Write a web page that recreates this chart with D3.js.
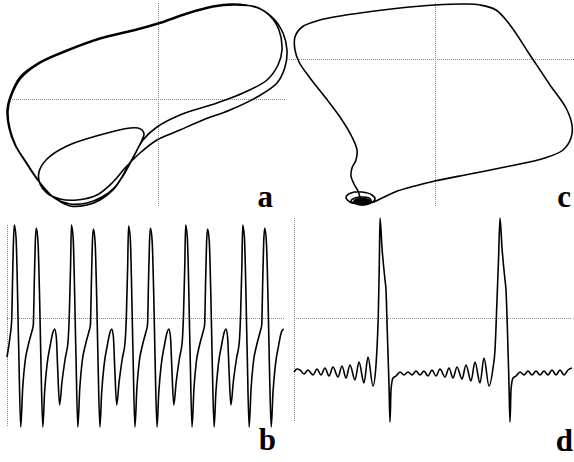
<!DOCTYPE html>
<html>
<head>
<meta charset="utf-8">
<script src="https://cdn.jsdelivr.net/npm/d3@7/dist/d3.min.js"></script>
<style>
  body { margin: 0; background: #fff; }
  svg { display: block; }
</style>
</head>
<body>
<div id="chart"></div>
<script>
// ---- panel a: phase portrait (x, y), grid lines cross at (0, 0)
const aX = [1.29, 1.25, 1.15, 1.00, 0.75, 0.55, 0.29, 0.00, -0.25, -0.58, -0.91, -1.18, -1.38, -1.48, -1.51, -1.49, -1.43, -1.33, -1.21, -1.06,
    -0.88, -0.71, -0.58, -0.45, -0.35, -0.25, -0.15, -0.01, 0.22, 0.59, 0.85, 1.09, 1.20, 1.24,
    1.21, 1.12, 0.98, 0.75, 0.55, 0.29, 0.00, -0.25, -0.58, -0.91, -1.18, -1.37, -1.47, -1.50, -1.48, -1.42, -1.32, -1.20, -1.05, -0.88,
    -0.71, -0.56, -0.43, -0.31, -0.21, -0.16, -0.14, -0.16, -0.20, -0.28, -0.58, -0.91, -1.11, -1.19, -1.18, -1.11, -0.98, -0.81, -0.61, -0.45, -0.33,
    -0.18, -0.01, 0.22, 0.45, 0.72, 0.99, 1.19, 1.27];
const aY = [0.49, 0.66, 0.81, 0.91, 0.95, 0.93, 0.86, 0.76, 0.69, 0.61, 0.49, 0.37, 0.22, 0.02, -0.11, -0.29, -0.46, -0.62, -0.80, -0.97,
    -1.07, -1.06, -1.01, -0.91, -0.77, -0.59, -0.41, -0.28, -0.16, -0.04, 0.06, 0.19, 0.34, 0.49,
    0.69, 0.83, 0.92, 0.94, 0.92, 0.85, 0.75, 0.68, 0.60, 0.48, 0.36, 0.21, 0.02, -0.12, -0.30, -0.47, -0.63, -0.81, -0.98, -1.05,
    -1.04, -0.98, -0.88, -0.69, -0.51, -0.41, -0.35, -0.31, -0.29, -0.29, -0.36, -0.47, -0.60, -0.73, -0.85, -0.94, -1.00, -1.01, -0.96, -0.83, -0.69,
    -0.54, -0.41, -0.31, -0.21, -0.11, 0.02, 0.16, 0.32];

// ---- panel c: phase portrait with the spiral near the fixed point
const cX = [-0.55, -0.40, -0.20, 0.00, 0.35, 0.75, 1.10, 1.28, 1.36, 1.37, 1.31, 1.15, 0.95, 0.75, 0.61, 0.45, 0.30, 0.00, -0.35, -0.75,
    -1.15, -1.33, -1.40, -1.40, -1.36, -1.25, -1.10, -0.95, -0.83, -0.78, -0.79, -0.83, -0.84, -0.81, -0.77, -0.75, -0.73,
    -0.64, -0.66, -0.73, -0.80, -0.84, -0.81, -0.73, -0.64, -0.60, -0.63, -0.73, -0.84, -0.89, -0.85, -0.73, -0.61];
const cY = [-1.40, -1.33, -1.27, -1.22, -1.15, -1.07, -0.99, -0.91, -0.79, -0.66, -0.49, -0.26, 0.04, 0.34, 0.49, 0.54, 0.55, 0.54, 0.51, 0.46,
    0.39, 0.32, 0.22, 0.09, -0.03, -0.19, -0.38, -0.58, -0.78, -0.91, -1.01, -1.09, -1.17, -1.25, -1.32, -1.38, -1.42,
    -1.42, -1.39, -1.38, -1.39, -1.42, -1.44, -1.46, -1.44, -1.40, -1.36, -1.33, -1.34, -1.38, -1.43, -1.45, -1.43];
// dense core of the spiral: centre x, centre y, half width, half height
const cCore = [-0.73, -1.425, 0.09, 0.04];

// ---- panel b: time series of x
const bT = [0, 3, 4.7, 5.5, 6.3,
    7.3, 9.0, 11.7, 13.7, 15.7, 18.0, 21.3, 24.7, 26.3, 27.3, 28.3, 29.3, 31.0, 32.6, 34.0, 35.8, 37.6, 40.0, 43.3, 46.0, 47.6, 49.3, 50.6, 52.6, 55.0, 58.3, 61.0, 62.3, 63.6,
    64.4, 66.1, 68.8, 70.8, 72.8, 75.1, 78.4, 81.8, 83.4, 84.4, 85.4, 86.4, 88.1, 89.7, 91.1, 92.9, 94.7, 97.1, 100.4, 103.1, 104.7, 106.4, 107.7, 109.7, 112.1, 115.4, 118.1, 119.4, 120.7,
    121.5, 123.2, 125.9, 127.9, 129.9, 132.2, 135.5, 138.9, 140.5, 141.5, 142.5, 143.5, 145.2, 146.8, 148.2, 150.0, 151.8, 154.2, 157.5, 160.2, 161.8, 163.5, 164.8, 166.8, 169.2, 172.5, 175.2, 176.5, 177.8,
    178.6, 180.3, 183.0, 185.0, 187.0, 189.3, 192.6, 196.0, 197.6, 198.6, 199.6, 200.6, 202.3, 203.9, 205.3, 207.1, 208.9, 211.3, 214.6, 217.3, 218.9, 220.6, 221.9, 223.9, 226.3, 229.6, 232.3, 233.6, 234.9,
    235.7, 237.4, 240.1, 242.1, 244.1, 246.4, 249.7, 253.1, 254.7, 255.7, 256.7, 257.7, 259.4, 261.0, 262.4, 264.2, 266.0, 268.4, 271.7, 274.4, 276.6];
const bV = [-0.39, -0.19, -0.02, 0.35, 0.72,
    0.93, 0.81, -0.30, -1.09, -0.70, -0.44, -0.27, -0.14, -0.07, 0.36, 0.76, 0.90, 0.76, 0.20, -0.47, -1.09, -0.74, -0.47, -0.27, -0.14, -0.11, -0.19, -0.49, -0.87, -0.64, -0.40, -0.24, 0.03, 0.53,
    0.93, 0.81, -0.30, -1.09, -0.70, -0.44, -0.27, -0.14, -0.07, 0.36, 0.76, 0.89, 0.76, 0.20, -0.47, -1.09, -0.74, -0.47, -0.27, -0.14, -0.11, -0.19, -0.49, -0.87, -0.64, -0.40, -0.24, 0.03, 0.53,
    0.92, 0.81, -0.30, -1.09, -0.70, -0.44, -0.27, -0.14, -0.07, 0.36, 0.76, 0.90, 0.76, 0.20, -0.47, -1.09, -0.74, -0.47, -0.27, -0.14, -0.11, -0.19, -0.49, -0.87, -0.64, -0.40, -0.24, 0.03, 0.53,
    0.93, 0.81, -0.30, -1.09, -0.70, -0.44, -0.27, -0.14, -0.07, 0.36, 0.76, 0.89, 0.76, 0.20, -0.47, -1.09, -0.74, -0.47, -0.27, -0.14, -0.11, -0.19, -0.49, -0.87, -0.64, -0.40, -0.24, 0.03, 0.53,
    0.93, 0.81, -0.30, -1.09, -0.70, -0.44, -0.27, -0.14, -0.07, 0.36, 0.76, 0.90, 0.76, 0.20, -0.47, -1.09, -0.74, -0.47, -0.27, -0.14, -0.11];

// ---- panel d: time series with bursts
const dT = [0, 3, 6, 10, 14, 19, 23, 27, 31, 35, 39, 44, 48, 52, 56, 61, 65, 70, 74, 79,
    82, 83, 84.3, 85.3, 86, 88, 91, 92, 93.3, 95, 96, 97, 99, 102, 106, 110, 114, 118, 122, 126,
    130, 134, 138, 142, 146, 151, 155, 159, 163, 168, 172, 177, 181, 186, 190, 195, 199, 201, 203, 204.5,
    206, 208, 211, 212, 213.5, 215, 216, 217, 219, 222, 226, 230, 234, 238, 242, 246, 250, 254, 258, 262,
    266, 270, 274, 278];
const dV = [-0.54, -0.51, -0.52, -0.56, -0.52, -0.57, -0.51, -0.57, -0.50, -0.58, -0.49, -0.59, -0.48, -0.60, -0.47, -0.62, -0.44, -0.65, -0.39, -0.68,
    -0.47, -0.30, 0.03, 0.53, 1.00, 0.70, 0.38, 0.28, -0.14, -0.67, -1.04, -0.72, -0.60, -0.58, -0.54, -0.57, -0.54, -0.57, -0.53, -0.57,
    -0.53, -0.58, -0.52, -0.58, -0.51, -0.59, -0.50, -0.60, -0.49, -0.61, -0.47, -0.63, -0.44, -0.65, -0.40, -0.68, -0.50, -0.32, 0.18, 0.58,
    1.00, 0.70, 0.38, 0.28, -0.14, -0.67, -1.04, -0.72, -0.60, -0.58, -0.54, -0.57, -0.53, -0.57, -0.53, -0.57, -0.53, -0.57, -0.52, -0.57,
    -0.52, -0.57, -0.52, -0.50];

const width = 574;
const height = 462;

const svg = d3.select('#chart')
    .append('svg')
    .attr('width', width)
    .attr('height', height);

const panels = [
    { xs: aX, ys: aY, xDom: [-1.5, 1.28], yDom: [0.96, -1.08], xRange: [8, 286], yRange: [3, 207],
      curve: d3.curveCatmullRomClosed.alpha(0.5), label: 'a', labelPos: [273, 207] },
    { xs: cX, ys: cY, xDom: [-1.48, 1.39], yDom: [0.56, -1.48], xRange: [287, 574], yRange: [3, 207],
      curve: d3.curveCatmullRomClosed.alpha(0.5), label: 'c', labelPos: [571, 207], core: cCore },
    { xs: bT, ys: bV, xDom: [0, 278], yDom: [0.93, -1.09], xRange: [7, 285], yRange: [225, 427],
      curve: d3.curveMonotoneX, label: 'b', labelPos: [276, 450] },
    { xs: dT, ys: dV, xDom: [0, 278], yDom: [1.00, -1.04], xRange: [294, 572], yRange: [218, 422],
      curve: d3.curveMonotoneX, label: 'd', labelPos: [573, 451] }
];

function drawPanel(p) {
    const x = d3.scaleLinear().domain(p.xDom).range(p.xRange);
    const y = d3.scaleLinear().domain(p.yDom).range(p.yRange);
    const g = svg.append('g');

    // dotted zero lines
    g.append('line')
        .attr('x1', Math.round(x(0)) + 0.5).attr('x2', Math.round(x(0)) + 0.5)
        .attr('y1', p.yRange[0]).attr('y2', p.yRange[1])
        .attr('stroke', '#888').attr('stroke-dasharray', '1,1');
    g.append('line')
        .attr('x1', p.xRange[0]).attr('x2', p.xRange[1])
        .attr('y1', Math.round(y(0)) + 0.5).attr('y2', Math.round(y(0)) + 0.5)
        .attr('stroke', '#888').attr('stroke-dasharray', '1,1');

    const pts = d3.zip(p.xs, p.ys);
    const line = d3.line()
        .x(d => x(d[0]))
        .y(d => y(d[1]))
        .curve(p.curve);

    g.append('path')
        .attr('d', line(pts))
        .attr('fill', 'none')
        .attr('stroke', '#000')
        .attr('stroke-width', 1.6)
        .attr('stroke-linejoin', 'round');

    if (p.core) {
        g.append('ellipse')
            .attr('cx', x(p.core[0]))
            .attr('cy', y(p.core[1]))
            .attr('rx', x(p.core[2]) - x(0))
            .attr('ry', y(0) - y(p.core[3]))
            .attr('fill', '#000');
    }

    g.append('text')
        .attr('x', p.labelPos[0])
        .attr('y', p.labelPos[1])
        .attr('text-anchor', 'end')
        .attr('font-family', '"Liberation Serif", "Times New Roman", serif')
        .attr('font-weight', 'bold')
        .attr('font-size', 31)
        .text(p.label);
}

panels.forEach(drawPanel);
</script>
</body>
</html>
